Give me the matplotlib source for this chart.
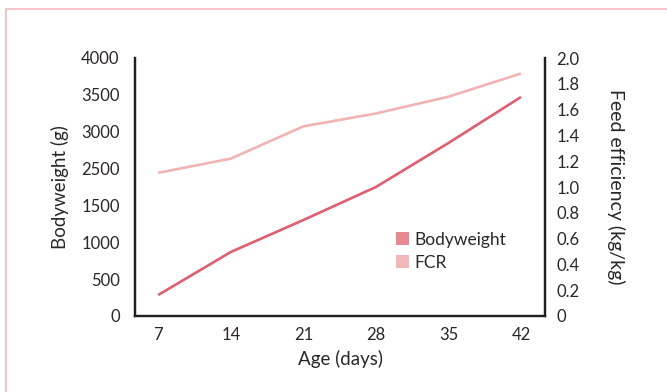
import matplotlib.pyplot as plt
from matplotlib.patches import Patch, Rectangle

plt.rcParams['font.family'] = ['Lato', 'DejaVu Sans']

# Age in days and the two series
age_days = [7, 14, 21, 28, 35, 42]
bodyweight = [285, 868, 1302, 1750, 2347, 2971]
fcr = [1.11, 1.22, 1.47, 1.57, 1.70, 1.88]

# Left axis tick labels as printed (note: 2000 is skipped in the original)
bw_ticks = [0, 500, 1000, 1500, 2000, 2500, 3000, 3500]
bw_tick_labels = ['0', '500', '1000', '1500', '2500', '3000', '3500', '4000']
fcr_ticks = [0, 0.2, 0.4, 0.6, 0.8, 1.0, 1.2, 1.4, 1.6, 1.8, 2.0]
fcr_tick_labels = ['0', '0.2', '0.4', '0.6', '0.8', '1.0', '1.2', '1.4', '1.6', '1.8', '2.0']

bw_color = '#e25d6e'
fcr_color = '#f2b3b3'
text_color = '#2b2728'
spine_color = '#231f20'

fig = plt.figure(figsize=(6.67, 3.92), dpi=100)

# pink frame around the panel
fig.patches.append(Rectangle((6 / 667, -0.1), 1.2, 1 - 9 / 392 + 0.1,
                             transform=fig.transFigure, fill=False,
                             edgecolor='#f5b9bb', linewidth=1.2))

ax = fig.add_axes([135 / 667, 76 / 392, 410 / 667, 258 / 392])
ax2 = ax.twinx()

x = list(range(len(age_days)))
ax.plot(x, bodyweight, color=bw_color, linewidth=1.9, solid_capstyle='butt')
ax2.plot(x, fcr, color=fcr_color, linewidth=1.9, solid_capstyle='butt')

ax.set_xlim(-0.32, 5.33)
ax.set_ylim(0, 3500)
ax2.set_ylim(0, 2.0)

ax.set_xticks(x)
ax.set_xticklabels([str(d) for d in age_days])
ax.set_yticks(bw_ticks)
ax.set_yticklabels(bw_tick_labels)
ax2.set_yticks(fcr_ticks)
ax2.set_yticklabels(fcr_tick_labels)

for a in (ax, ax2):
    a.spines['top'].set_visible(False)
    for s in ('left', 'right', 'bottom'):
        a.spines[s].set_color(spine_color)
        a.spines[s].set_linewidth(1.6)
    a.tick_params(length=0, labelsize=12, colors=text_color)

ax.tick_params(axis='y', pad=11)
ax.tick_params(axis='x', pad=8)
ax2.tick_params(axis='y', pad=8)

ax.set_xlabel('Age (days)', fontsize=13.5, color=text_color, labelpad=5)
ax.set_ylabel('Bodyweight (g)', fontsize=13.5, color=text_color, labelpad=9)
ax2.set_ylabel('Feed efficiency (kg/kg)', fontsize=14, color=text_color,
               rotation=270, labelpad=33)

handles = [Patch(facecolor='#e88891', edgecolor='none', label='Bodyweight'),
           Patch(facecolor='#f2b8b8', edgecolor='none', label='FCR')]
ax2.legend(handles=handles, loc='upper left', bbox_to_anchor=(0.62, 0.353),
           frameon=False, fontsize=12.5, handlelength=0.75, handleheight=0.75,
           handletextpad=0.3, labelspacing=0.4, borderaxespad=0,
           labelcolor=text_color)

fig.savefig('out.png', dpi=100)
